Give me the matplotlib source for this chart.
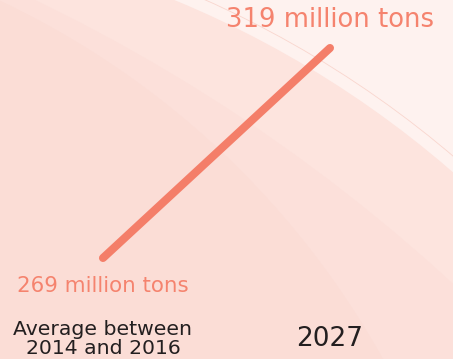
import matplotlib.pyplot as plt
from matplotlib.patches import Circle
import matplotlib.transforms as mtransforms

# data
categories = ["Average between\n2014 and 2016", "2027"]
values = [269, 319]
value_labels = ["269 million tons", "319 million tons"]

line_color = "#f47e69"
text_color = "#f5836e"
dark = "#231f20"

fig = plt.figure(figsize=(4.53, 3.59), dpi=100)

# background arcs (pixel coordinates)
bg = fig.add_axes([0, 0, 1, 1])
bg.set_xlim(0, 453)
bg.set_ylim(359, 0)
bg.axis("off")
bg.add_patch(plt.Rectangle((0, 0), 453, 359, color="#fef2ef", zorder=0))
bg.add_patch(Circle((-213.5, 938.7), 1015, color="#fde4de", zorder=1))
bg.add_patch(Circle((-213.5, 938.7), 1028, fill=False, ec="#f9d6ce", lw=0.6, zorder=1))
bg.add_patch(Circle((-712, 1550), 1720, color="#fce0da", zorder=2))
bg.add_patch(Circle((-367, 777), 858, color="#fbddd6", zorder=3))

# chart
ax = fig.add_axes([0, 0, 1, 1])
ax.patch.set_alpha(0)
x = list(range(len(categories)))
ax.plot(x, values, color=line_color, lw=5.8, solid_capstyle="round", zorder=5)
ax.set_xlim(-0.4537, 1.5419)
ax.set_ylim(244.95, 330.43)
ax.axis("off")

sizes = [15.4, 18.6]
offsets = [-20, 20]
for xi, v, lab, fs, off in zip(x, values, value_labels, sizes, offsets):
    ax.annotate(lab, (xi, v), xytext=(0, off), textcoords="offset points",
                ha="center", va="center", color=text_color, fontsize=fs)

trans = mtransforms.blended_transform_factory(ax.transData, ax.transAxes)
ax.text(x[0], 0.057, categories[0], transform=trans, ha="center", va="center",
        color=dark, fontsize=14.7, linespacing=1.0)
ax.text(x[1], 0.057, categories[1], transform=trans, ha="center", va="center",
        color=dark, fontsize=19)

fig.savefig("out.png", dpi=100)
